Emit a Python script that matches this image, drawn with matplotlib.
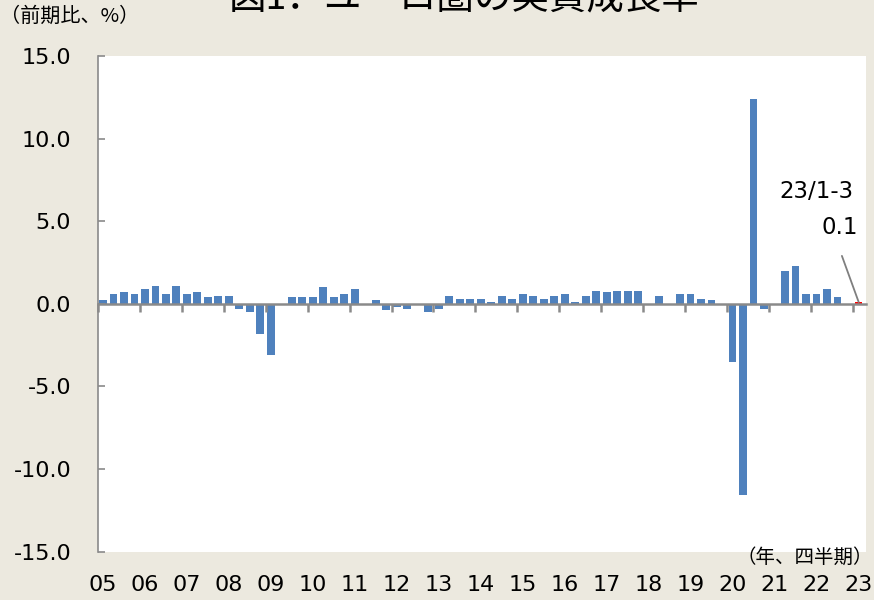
import matplotlib.pyplot as plt
import numpy as np

plt.rcParams['font.family'] = ['DejaVu Sans']
plt.rcParams['axes.unicode_minus'] = False

CJK = ['Noto Sans CJK JP', 'DejaVu Sans']

# quarterly real GDP growth (q/q, %), 2005Q1 .. 2023Q1
growth = [
    0.2, 0.6, 0.7, 0.6,      # 2005
    0.9, 1.1, 0.6, 1.1,      # 2006
    0.6, 0.7, 0.4, 0.5,      # 2007
    0.5, -0.3, -0.5, -1.8,   # 2008
    -3.1, 0.0, 0.4, 0.4,     # 2009
    0.4, 1.0, 0.4, 0.6,      # 2010
    0.9, 0.0, 0.2, -0.4,     # 2011
    -0.2, -0.3, -0.1, -0.5,  # 2012
    -0.3, 0.5, 0.3, 0.3,     # 2013
    0.3, 0.1, 0.5, 0.3,      # 2014
    0.6, 0.5, 0.3, 0.5,      # 2015
    0.6, 0.1, 0.5, 0.8,      # 2016
    0.7, 0.8, 0.8, 0.8,      # 2017
    0.0, 0.5, 0.0, 0.6,      # 2018
    0.6, 0.3, 0.2, 0.0,      # 2019
    -3.5, -11.6, 12.4, -0.3, # 2020
    0.0, 2.0, 2.3, 0.6,      # 2021
    0.6, 0.9, 0.4, -0.1,     # 2022
    0.1,                     # 2023
]
year_labels = ['05', '06', '07', '08', '09', '10', '11', '12', '13', '14',
               '15', '16', '17', '18', '19', '20', '21', '22', '23']
y_ticks = [-15, -10, -5, 0, 5, 10, 15]
latest_label = '23/1-3'

BAR_BLUE = '#4F81BD'
AXIS_GRAY = '#8a8a8a'

fig = plt.figure(figsize=(8.74, 6.0), dpi=100, facecolor='#ECE9DF')
ax = fig.add_axes([0.1116, 0.0808, 0.8793, 0.8258])
ax.set_facecolor('white')

x = np.arange(len(growth))
colors = [BAR_BLUE] * (len(growth) - 1) + ['#FF0000']
ax.bar(x, growth, width=0.72, color=colors, zorder=1)

ax.set_xlim(-0.5, len(growth) - 0.3)
ax.set_ylim(-15, 15)

# y axis
ax.set_yticks(y_ticks)
ax.set_yticklabels([f'{v:.1f}' for v in y_ticks])
ax.tick_params(axis='y', direction='in', length=5, width=1.2, color=AXIS_GRAY,
               pad=19, labelsize=16)

for s in ['top', 'right']:
    ax.spines[s].set_visible(False)
ax.spines['left'].set_color(AXIS_GRAY)
ax.spines['left'].set_linewidth(1.2)

# category axis crosses at zero, tick marks between years
ax.spines['bottom'].set_position(('data', 0))
ax.spines['bottom'].set_color(AXIS_GRAY)
ax.spines['bottom'].set_linewidth(1.8)
ax.set_xticks(np.arange(0, len(growth), 4) - 0.5)
ax.set_xticklabels([])
ax.tick_params(axis='x', direction='out', length=6, width=1.8, color=AXIS_GRAY)

# year labels sit at the bottom of the plot ("low" position)
sec = ax.secondary_xaxis(0)
sec.set_xticks(np.arange(0, len(growth), 4))
sec.set_xticklabels(year_labels)
sec.tick_params(length=0, pad=17, labelsize=16)
sec.spines['bottom'].set_visible(False)

# latest quarter callout
last = len(growth) - 1
ax.annotate('', xy=(last, growth[-1]), xytext=(last - 1.6, 2.9),
            arrowprops=dict(arrowstyle='-', color='#7f7f7f', lw=1.3,
                            shrinkA=0, shrinkB=0))
ax.text(last - 0.5, 6.8, latest_label, ha='right', va='center', fontsize=16.5)
ax.text(last - 0.1, 4.6, f'{growth[-1]:.1f}', ha='right', va='center',
        fontsize=16.5)

# texts outside the plot (title is cropped at the top edge, as in the source)
fig.text(0.531, 1 - 9 / 600, '図1．ユーロ圏の実質成長率', ha='center',
         va='baseline', fontsize=27, family=CJK)
fig.text(0.0, 1 - 6 / 600, '（前期比、%）', ha='left', va='top',
         fontsize=14.5, family=CJK)
fig.text(0.999, 1 - 547 / 600, '（年、四半期）', ha='right', va='top',
         fontsize=14, family=CJK)

fig.savefig('out.png', dpi=100, facecolor=fig.get_facecolor())
